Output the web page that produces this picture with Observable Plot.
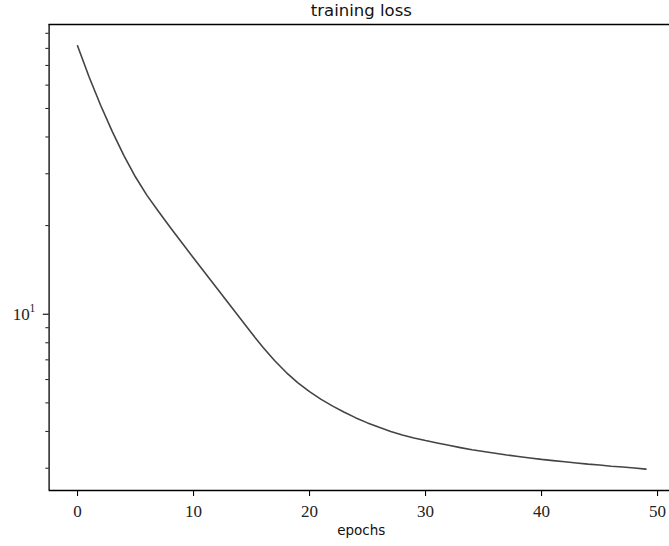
<!DOCTYPE html>
<html>
<head>
<meta charset="utf-8">
<script src="https://cdn.jsdelivr.net/npm/d3@7"></script>
<script src="https://cdn.jsdelivr.net/npm/@observablehq/plot@0.6"></script>
<style>
  body { margin: 0; background: #fff; }
  #chart svg { display: block; }
</style>
</head>
<body>
<div id="chart"></div>
<script>
// Training loss per epoch (log scale)
const loss = [
  81.66, 63.97, 51.17, 41.69, 34.59, 29.24, 25.29, 22.28, 19.72, 17.50,
  15.52, 13.80, 12.27, 10.91, 9.705, 8.630, 7.709, 6.950, 6.339, 5.848,
  5.458, 5.140, 4.875, 4.645, 4.446, 4.276, 4.130, 4.000, 3.890, 3.802,
  3.724, 3.656, 3.589, 3.524, 3.467, 3.420, 3.373, 3.327, 3.289, 3.251,
  3.214, 3.184, 3.155, 3.126, 3.097, 3.076, 3.048, 3.027, 3.006, 2.979
];
const epochs = loss.map((_, i) => i);

const xTicks = [0, 10, 20, 30, 40, 50];
const yMajor = [10];
const yMinor = [3, 4, 5, 6, 7, 8, 9, 20, 30, 40, 50, 60, 70, 80, 90];
const xDomain = [-2.45, 51.03];
const yDomain = [2.52, 96.4];

const title = "training loss";
const xLabel = "epochs";

const rows = epochs.map((e, i) => ({epoch: e, loss: loss[i]}));

const serif = "'Liberation Serif', 'DejaVu Serif', serif";
const sans = "'DejaVu Sans', sans-serif";
const ink = "#000";

const chart = Plot.plot({
  width: 669,
  height: 546,
  marginLeft: 48.6,
  marginRight: 0,
  marginTop: 24,
  marginBottom: 56,
  style: {background: "#fff", fontFamily: sans},
  x: {type: "linear", domain: xDomain, axis: null, label: null},
  y: {type: "log", domain: yDomain, axis: null, label: null},
  marks: [
    // spines: left, top, bottom
    Plot.ruleX([xDomain[0]], {stroke: ink, strokeWidth: 1.3}),
    Plot.ruleY([yDomain[1]], {stroke: ink, strokeWidth: 1.3}),
    Plot.ruleY([yDomain[0]], {stroke: ink, strokeWidth: 1.3}),

    // x axis ticks and labels
    Plot.axisX(xTicks, {
      anchor: "bottom", tickSize: 6, tickPadding: 8, stroke: ink, strokeWidth: 1.1,
      fill: "#222", fontSize: 17, fontFamily: serif, label: null, tickFormat: d => String(d)
    }),

    // y axis: minor and major ticks
    Plot.axisY(yMinor, {
      anchor: "left", tickSize: 3.3, stroke: ink, strokeWidth: 0.9,
      tickFormat: () => "", label: null
    }),
    Plot.axisY(yMajor, {
      anchor: "left", tickSize: 5.8, stroke: ink, strokeWidth: 1.1,
      tickFormat: () => "", label: null
    }),
    // y major labels as 10^k
    Plot.text(yMajor, {
      y: d => d, frameAnchor: "left", dx: -19.3, textAnchor: "end",
      lineAnchor: "middle", text: () => "10", fontSize: 17, fontFamily: serif, fill: "#222"
    }),
    Plot.text(yMajor, {
      y: d => d, frameAnchor: "left", dx: -13.9, dy: -5.8, textAnchor: "end",
      lineAnchor: "middle", text: d => String(Math.round(Math.log10(d))),
      fontSize: 11.5, fontFamily: serif, fill: "#222"
    }),

    // the loss curve
    Plot.line(rows, {x: "epoch", y: "loss", stroke: "#444", strokeWidth: 1.6}),

    // title and x label
    Plot.text([title], {
      frameAnchor: "top", dx: 2, dy: -9, lineAnchor: "bottom",
      fontSize: 16.5, fontFamily: sans, fill: "#111"
    }),
    Plot.text([xLabel], {
      frameAnchor: "bottom", dx: 2, dy: 44, lineAnchor: "bottom",
      fontSize: 13.5, fontFamily: sans, fill: "#111"
    })
  ]
});

document.getElementById("chart").appendChild(chart);
</script>
</body>
</html>
